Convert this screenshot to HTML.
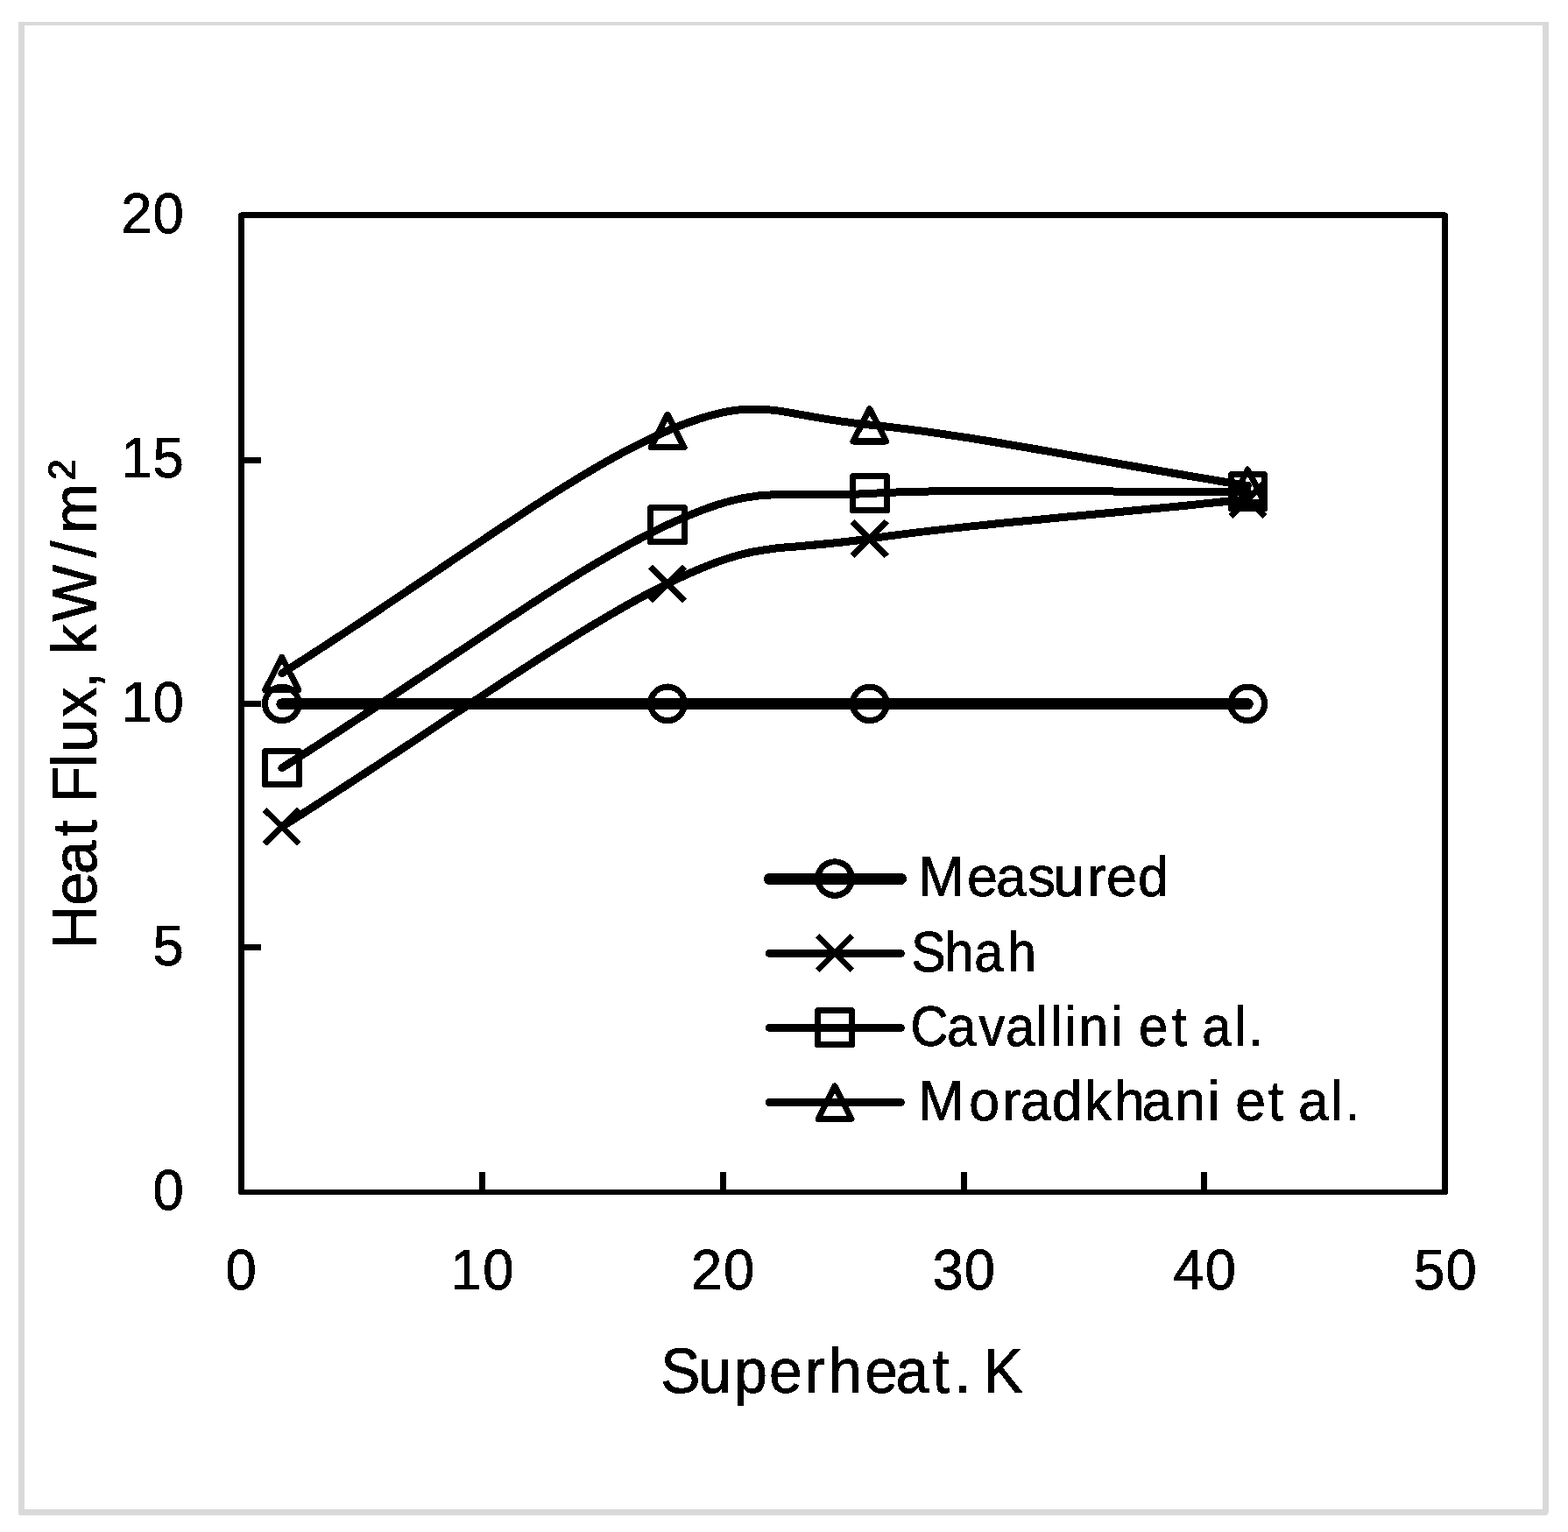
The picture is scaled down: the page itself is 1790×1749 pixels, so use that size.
<!DOCTYPE html>
<html lang="en">
<head>
<meta charset="utf-8">
<title>Heat Flux vs Superheat</title>
<style>
html,body{margin:0;padding:0;background:#fff;}
body{width:1790px;height:1749px;}
svg{display:block;}
text{white-space:pre;}
</style>
</head>
<body>
<svg width="1790" height="1749" viewBox="0 0 1790 1749">
<defs>
<filter id="bw" filterUnits="userSpaceOnUse" x="0" y="0" width="1790" height="1749" color-interpolation-filters="sRGB">
<feComponentTransfer><feFuncA type="discrete" tableValues="0 1"/></feComponentTransfer>
</filter>
<filter id="bwt" filterUnits="userSpaceOnUse" x="0" y="0" width="1790" height="1749" color-interpolation-filters="sRGB">
<feComponentTransfer><feFuncA type="discrete" tableValues="0 0 1 1 1"/></feComponentTransfer>
</filter>
</defs>
<rect x="0" y="0" width="1790" height="1749" fill="#fff"/>
<path fill="#d9d9d9" fill-rule="evenodd" d="M21 25H1768V1727H1767V1729H1766V1730H22V1729H21Z M28 29V1723H1761V29Z"/>
<g filter="url(#bw)">
<g fill="#000">
<path fill-rule="evenodd" d="M275 242H1650V243H1652V244H1653V1363H1652V1364H273V1363H272V244H273V243H275Z M279 249V1358H1646V249Z"/>
<rect x="547" y="1338" width="7" height="21"/>
<rect x="822" y="1338" width="7" height="21"/>
<rect x="1097" y="1338" width="7" height="21"/>
<rect x="1371" y="1338" width="7" height="21"/>
<rect x="278" y="522" width="20" height="7"/>
<rect x="278" y="800" width="20" height="7"/>
<rect x="278" y="1078" width="20" height="7"/>
</g>
<g fill="none" stroke="#000" stroke-linecap="round" stroke-linejoin="round">
<path d="M321.8 803.7C497.88 803.7 650.17 803.7 762 803.7C873.83 803.7 882.42 803.7 992.8 803.7C1103.18 803.7 1251.7 803.7 1424.3 803.7" stroke-width="13"/>
<path d="M321.8 943.8C497.88 832.84 650.17 721.2 762 666.4C868.17 614.38 882.42 631.07 992.8 615C1103.18 598.93 1251.7 588 1424.3 570" stroke-width="9"/>
<path d="M321.8 876.7C497.88 765.7 650.17 651.42 762 599.2C867.81 549.79 882.42 569.72 992.8 563.4C1103.18 557.08 1251.7 562.14 1424.3 561.3" stroke-width="9"/>
<path d="M321.8 768.7C497.88 657.94 650.17 539.08 762 491.8C868.34 446.84 882.42 474.55 992.8 485C1103.18 495.45 1251.7 526.7 1424.3 554.5" stroke-width="9"/>
</g>
<g fill="none" stroke="#000" stroke-width="7" stroke-linejoin="round">
<circle cx="321.8" cy="803.3" r="19.35"/>
<circle cx="762" cy="803.3" r="19.35"/>
<circle cx="992.8" cy="803.3" r="19.35"/>
<circle cx="1424.3" cy="803.3" r="19.35"/>
<path stroke-linecap="butt" d="M302.2 924.2 L341.4 963.4 M302.2 963.4 L341.4 924.2"/>
<path stroke-linecap="butt" d="M742.4 646.8 L781.6 686 M742.4 686 L781.6 646.8"/>
<path stroke-linecap="butt" d="M973.2 595.4 L1012.4 634.6 M973.2 634.6 L1012.4 595.4"/>
<path stroke-linecap="butt" d="M1404.7 550.4 L1443.9 589.6 M1404.7 589.6 L1443.9 550.4"/>
<rect x="302.5" y="857.5" width="39" height="38"/>
<rect x="742.5" y="579.5" width="39" height="39"/>
<rect x="973.5" y="543.5" width="39" height="39"/>
<rect x="1405.5" y="541.5" width="38" height="39"/>
<path d="M321.8 750.2 L340.8 787.7 L302.8 787.7 Z"/>
<path d="M762 473.3 L781 510.8 L743 510.8 Z"/>
<path d="M992.8 466.5 L1011.8 504 L973.8 504 Z"/>
<path d="M1424.3 536 L1443.3 573.5 L1405.3 573.5 Z"/>
</g>
<g fill="none" stroke="#000" stroke-linecap="round" stroke-linejoin="round">
<line x1="878.4" y1="1003.4" x2="1028.4" y2="1003.4" stroke-width="13"/>
<line x1="878.4" y1="1088.4" x2="1028.4" y2="1088.4" stroke-width="9"/>
<line x1="878.4" y1="1173.4" x2="1028.4" y2="1173.4" stroke-width="9"/>
<line x1="878.4" y1="1258.5" x2="1028.4" y2="1258.5" stroke-width="9"/>
</g>
<g fill="none" stroke="#000" stroke-width="7" stroke-linejoin="round">
<circle cx="953" cy="1003" r="19.35"/>
<path stroke-linecap="butt" d="M933.4 1068.4 L972.6 1107.6 M933.4 1107.6 L972.6 1068.4"/>
<rect x="933.5" y="1153.5" width="39" height="39"/>
<path d="M953 1239.9 L972 1277.4 L934 1277.4 Z"/>
</g>
</g>
<g filter="url(#bwt)" font-family="'Liberation Sans', sans-serif" fill="#000" stroke="#000" stroke-width="0.7" stroke-linejoin="round">
<text transform="translate(0 1023.3) scale(0.9607 1)" font-size="65.4" x="1091.23 1149.29 1183.52 1221.61 1251.57 1291.96 1314.67 1352.08" y="0">Measured</text>
<text transform="translate(0 1108.7) scale(0.9063 1)" font-size="65.4" x="1147.91 1190.1 1227.25 1268.99" y="0">Shah</text>
<text transform="translate(0 1193.7) scale(0.9161 1)" font-size="65.4" x="1134.31 1179.98 1219.84 1253.25 1290.62 1309.13 1327.22 1344.62 1384.75 1399.28 1419.18 1460.61 1478.78 1497.86 1538.53 1555.56" y="0">Cavallini et al.</text>
<text transform="translate(0 1279.1) scale(0.9570 1)" font-size="65.4" x="1095.62 1155.88 1195.79 1217.26 1254.78 1293.4 1329.23 1362.13 1401.5 1440.38 1454.91 1473.55 1512.85 1531.02 1548.54 1587.59 1604.17" y="0">Moradkhani et al.</text>
<text transform="translate(0 1589.8) scale(0.9334 1)" font-size="72.6" x="808.12 854.07 898.09 940.65 984.58 1013.59 1057.64 1095.56 1140.77 1167.2 1187.37 1202.94" y="0">Superheat. K</text>
<text transform="translate(110 0) rotate(-90) scale(0.9469 1)" font-size="72.6" x="-1144.53 -1091.94 -1054.06 -1008.59 -988.42 -968.11 -925.61 -907.15 -864.78 -830.3 -810.13 -789.32 -749.43 -672.25 -643.32 -578.24" y="0 0 0 0 0 0 0 0 0 0 0 0 0 0 0 -4.4">Heat Flux, kW/m²</text>
<text transform="translate(0 1471.9) scale(0.9700 1)" font-size="65.4" x="265.42" y="0">0</text>
<text transform="translate(0 1471.9) scale(0.9700 1)" font-size="65.4" x="530.04 568.31" y="0">10</text>
<text transform="translate(0 1471.9) scale(0.9700 1)" font-size="65.4" x="813.46 851.61" y="0">20</text>
<text transform="translate(0 1471.9) scale(0.9700 1)" font-size="65.4" x="1097.47 1134.91" y="0">30</text>
<text transform="translate(0 1471.9) scale(0.9700 1)" font-size="65.4" x="1380.99 1418.21" y="0">40</text>
<text transform="translate(0 1471.9) scale(0.9700 1)" font-size="65.4" x="1663.94 1701.5" y="0">50</text>
<text transform="translate(0 1380.7) scale(0.9700 1)" font-size="65.4" x="179.96" y="0">0</text>
<text transform="translate(0 1101.7) scale(0.9700 1)" font-size="65.4" x="179.87" y="0">5</text>
<text transform="translate(0 823.5) scale(0.9700 1)" font-size="65.4" x="142.72 179.96" y="0">10</text>
<text transform="translate(0 544.5) scale(0.9700 1)" font-size="65.4" x="142.57 179.97" y="0">15</text>
<text transform="translate(0 265.5) scale(0.9700 1)" font-size="65.4" x="142.54 180.01" y="0">20</text>
</g>
</svg>
</body>
</html>
